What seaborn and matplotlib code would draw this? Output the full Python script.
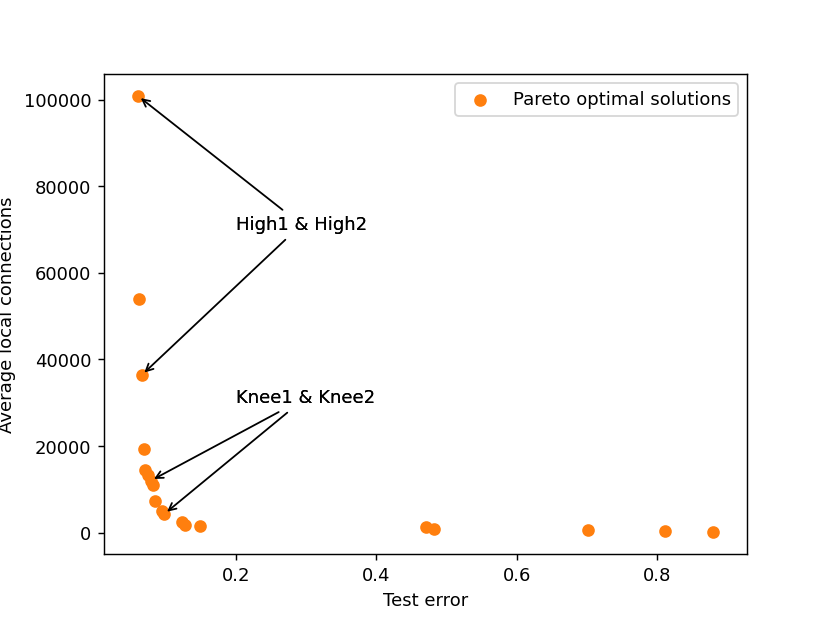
import pandas as pd
import matplotlib
matplotlib.use("Agg")
import matplotlib.pyplot as plt
import seaborn as sns

# Pareto front
test_error = [0.0607, 0.0620, 0.0660, 0.0693, 0.0707, 0.0754, 0.0790, 0.0825,
              0.0856, 0.0953, 0.0982, 0.1228, 0.1275, 0.1488, 0.471, 0.482,
              0.702, 0.811, 0.880]
local_conn = [100900, 54000, 36400, 19300, 14500, 13200, 12000, 10900,
              7400, 4900, 4300, 2400, 1850, 1500, 1200, 900,
              500, 300, 200]

high_idx = [0, 2]
knee_idx = [6, 10]

df = pd.DataFrame({'Test error': test_error, 'Average local connections': local_conn})

fig, ax = plt.subplots(figsize=(6.4, 4.8), dpi=129.7)
sns.scatterplot(data=df, x='Test error', y='Average local connections', ax=ax,
                color='C1', edgecolor='C1', linewidth=1, s=36,
                label='Pareto optimal solutions')

for i in high_idx:
    ax.annotate('High1 & High2', xy=(test_error[i], local_conn[i]),
                xytext=(0.2, 70000), arrowprops=dict(arrowstyle='->', color='black'))
for i in knee_idx:
    ax.annotate('Knee1 & Knee2', xy=(test_error[i], local_conn[i]),
                xytext=(0.2, 30000), arrowprops=dict(arrowstyle='->', color='black'))

ax.set_xlim(0.012, 0.928)
ax.set_xlabel('Test error')
ax.set_ylabel('Average local connections')
ax.legend(loc='upper right')

plt.savefig('out.png')
